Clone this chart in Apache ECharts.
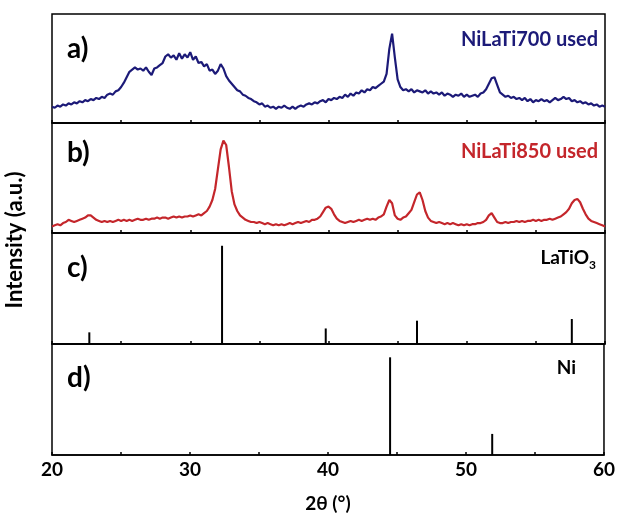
<!DOCTYPE html>
<html><head><meta charset="utf-8">
<script src="https://cdn.jsdelivr.net/npm/echarts@6/dist/echarts.min.js"></script>
<style>html,body{margin:0;padding:0;background:#fff}#c{width:618px;height:515px}</style>
</head><body><div id="c"></div>
<script>
var twoTheta = [20.0,20.2,20.4,20.6,20.8,21.0,21.2,21.4,21.6,21.8,22.0,22.2,22.4,22.6,22.8,23.0,23.2,23.4,23.6,23.8,
24.0,24.2,24.4,24.6,24.8,25.0,25.2,25.4,25.6,25.8,26.0,26.2,26.4,26.6,26.8,27.0,27.2,27.4,27.6,27.8,
28.0,28.2,28.4,28.6,28.8,29.0,29.2,29.4,29.6,29.8,30.0,30.2,30.4,30.6,30.8,31.0,31.2,31.4,31.6,31.8,
32.0,32.2,32.4,32.6,32.8,33.0,33.2,33.4,33.6,33.8,34.0,34.2,34.4,34.6,34.8,35.0,35.2,35.4,35.6,35.8,
36.0,36.2,36.4,36.6,36.8,37.0,37.2,37.4,37.6,37.8,38.0,38.2,38.4,38.6,38.8,39.0,39.2,39.4,39.6,39.8,
40.0,40.2,40.4,40.6,40.8,41.0,41.2,41.4,41.6,41.8,42.0,42.2,42.4,42.6,42.8,43.0,43.2,43.4,43.6,43.8,
44.0,44.2,44.4,44.6,44.8,45.0,45.2,45.4,45.6,45.8,46.0,46.2,46.4,46.6,46.8,47.0,47.2,47.4,47.6,47.8,
48.0,48.2,48.4,48.6,48.8,49.0,49.2,49.4,49.6,49.8,50.0,50.2,50.4,50.6,50.8,51.0,51.2,51.4,51.6,51.8,
52.0,52.2,52.4,52.6,52.8,53.0,53.2,53.4,53.6,53.8,54.0,54.2,54.4,54.6,54.8,55.0,55.2,55.4,55.6,55.8,
56.0,56.2,56.4,56.6,56.8,57.0,57.2,57.4,57.6,57.8,58.0,58.2,58.4,58.6,58.8,59.0,59.2,59.4,59.6,59.8,60.0];

var niLaTi700 = [15,14,16,15,17,16,18,17,19,18,20,19,21,20,22,21,23,22,24,23,
26,27,26,29,30,33,37,42,47,49,51,49,50,48,51,47,44,50,51,53,
55,61,63,60,62,58,64,59,63,60,65,58,61,55,56,52,54,48,49,45,
48,54,50,43,39,36,33,30,29,26,25,23,22,20,19,17,18,15,16,14,
15,13,15,14,16,14,13,15,13,15,16,15,17,18,17,19,18,20,21,19,
22,21,23,22,24,23,26,24,27,25,28,27,30,28,31,30,33,32,34,36,
38,45,68,82,60,40,33,30,31,29,31,28,30,29,28,30,27,29,27,28,
26,28,25,27,26,24,26,25,27,24,26,24,25,26,24,27,28,31,36,41,
42,35,28,26,24,25,23,24,22,23,21,23,20,22,19,21,20,22,20,21,
19,21,23,21,22,24,22,23,20,21,19,20,18,19,17,18,16,17,15,16,15];

var niLaTi850 = [6,7,8,7,9,10,12,11,10,11,12,13,14,16,16,14,12,11,10,11,
10,11,10,11,12,11,12,11,12,11,12,13,12,12,13,12,13,13,14,13,
14,14,13,14,15,14,15,14,15,15,16,15,16,17,16,18,20,24,30,40,
58,76,84,80,60,38,26,20,16,14,12,11,10,10,9,10,9,8,9,8,
7,8,7,8,7,8,9,8,9,10,9,10,11,10,12,12,13,15,19,23,
24,22,17,13,11,10,9,10,11,10,11,12,11,12,13,12,13,12,14,15,
17,24,30,27,16,13,12,14,15,18,21,28,35,37,30,20,14,11,10,9,
10,9,8,9,8,9,8,7,8,7,8,7,8,8,9,9,10,12,16,18,
14,10,9,9,10,9,10,10,11,10,11,10,11,11,12,11,12,11,12,12,
13,12,13,14,15,17,19,22,27,30,31,28,22,17,13,11,10,9,8,7,6];

var laTiO3Pos = [22.7, 32.3, 39.8, 46.4, 57.6];
var laTiO3Int = [10.5, 88.5, 14, 21, 22.5];
var niPos = [44.5, 51.9];
var niInt = [88, 19];
var xTicks = [20, 30, 40, 50, 60];

function pairs(xs, ys){ return xs.map(function(x,i){ return [x, ys[i]]; }); }

var FONT = 'Lato';
var chart = echarts.init(document.getElementById('c'), null, {renderer:'canvas'});
var tops = [14, 123, 233, 344];
var heights = [109, 110, 111, 111];
var grids = [], xAxes = [], yAxes = [];
for (var i = 0; i < 4; i++) {
  grids.push({left: 52, right: 13, top: tops[i], height: heights[i], show: true,
    borderColor: '#000', borderWidth: 1.5, backgroundColor: 'transparent'});
  xAxes.push({type: 'value', gridIndex: i, min: 20, max: 60, interval: 10,
    axisLine: {show: true, lineStyle: {color: '#000', width: 1.5}},
    axisTick: {show: true, inside: true, length: 3, lineStyle: {color: '#000', width: 1.5}},
    minorTick: {show: true, splitNumber: 2, length: 3, lineStyle: {color: '#000', width: 1.5}},
    splitLine: {show: false},
    axisLabel: {show: i === 3, color: '#000', fontFamily: FONT, fontWeight: 'bold', fontSize: 19, margin: 5,
      formatter: function(v){ return xTicks.indexOf(v) >= 0 ? String(v) : ''; }},
    name: i === 3 ? '2θ (°)' : '', nameLocation: 'middle', nameGap: 39,
    nameTextStyle: {color: '#000', fontFamily: FONT, fontWeight: 'bold', fontSize: 19}
  });
  yAxes.push({type: 'value', gridIndex: i, min: 0, max: 100, show: false});
}

var option = {
  animation: false,
  backgroundColor: '#fff',
  grid: grids, xAxis: xAxes, yAxis: yAxes,
  series: [
    {type: 'line', xAxisIndex: 0, yAxisIndex: 0, data: pairs(twoTheta, niLaTi700), showSymbol: false,
      lineStyle: {color: '#1c1a78', width: 2.2}, silent: true},
    {type: 'line', xAxisIndex: 1, yAxisIndex: 1, data: pairs(twoTheta, niLaTi850), showSymbol: false,
      lineStyle: {color: '#c4262b', width: 2.2}, silent: true},
    {type: 'bar', xAxisIndex: 2, yAxisIndex: 2, data: pairs(laTiO3Pos, laTiO3Int), barWidth: 2,
      itemStyle: {color: '#000'}, silent: true},
    {type: 'bar', xAxisIndex: 3, yAxisIndex: 3, data: pairs(niPos, niInt), barWidth: 2,
      itemStyle: {color: '#000'}, silent: true}
  ],
  graphic: [
    {type: 'text', x: 15, y: 240, rotation: Math.PI/2, style: {text: 'Intensity (a.u.)', fill: '#000',
      font: 'bold 22px ' + FONT, textAlign: 'center', textVerticalAlign: 'middle'}},
    {type: 'text', x: 67, y: 49, style: {text: 'a)', fill: '#000', font: 'bold 28px ' + FONT, textVerticalAlign: 'middle'}},
    {type: 'text', x: 67, y: 153, style: {text: 'b)', fill: '#000', font: 'bold 28px ' + FONT, textVerticalAlign: 'middle'}},
    {type: 'text', x: 67, y: 268, style: {text: 'c)', fill: '#000', font: 'bold 28px ' + FONT, textVerticalAlign: 'middle'}},
    {type: 'text', x: 67, y: 378, style: {text: 'd)', fill: '#000', font: 'bold 28px ' + FONT, textVerticalAlign: 'middle'}},
    {type: 'text', x: 598, y: 40, style: {text: 'NiLaTi700 used', fill: '#1c1a78', font: 'bold 20px ' + FONT,
      textAlign: 'right', textVerticalAlign: 'middle'}},
    {type: 'text', x: 598, y: 152, style: {text: 'NiLaTi850 used', fill: '#c4262b', font: 'bold 20px ' + FONT,
      textAlign: 'right', textVerticalAlign: 'middle'}},
    {type: 'text', x: 596, y: 258, style: {text: 'LaTiO{s|3}', fill: '#000', font: 'bold 19px ' + FONT,
      textAlign: 'right', textVerticalAlign: 'middle',
      rich: {s: {fontFamily: FONT, fontWeight: 'bold', fontSize: 12, fill: '#000', padding: [14, 0, 0, 0]}}}},
    {type: 'text', x: 576, y: 368, style: {text: 'Ni', fill: '#000', font: 'bold 19px ' + FONT,
      textAlign: 'right', textVerticalAlign: 'middle'}}
  ]
};
chart.setOption(option);
</script></body></html>
